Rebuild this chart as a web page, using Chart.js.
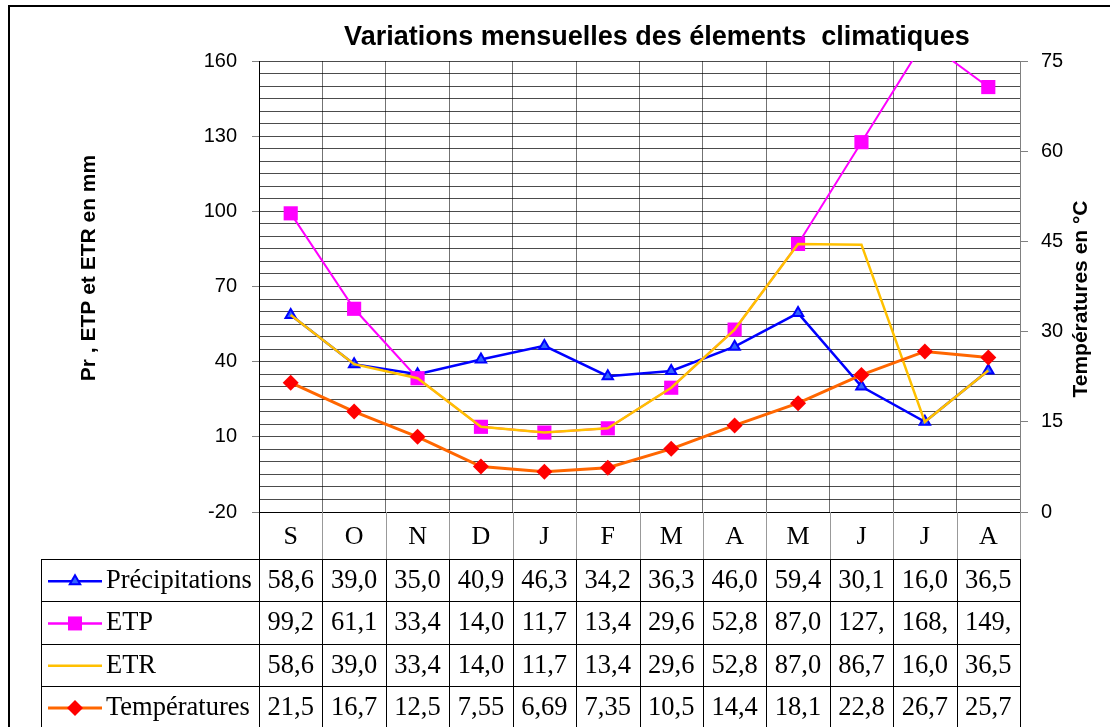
<!DOCTYPE html>
<html>
<head>
<meta charset="utf-8">
<title>Variations mensuelles des élements climatiques</title>
<script src="https://cdn.jsdelivr.net/npm/chart.js@4.4.0/dist/chart.umd.min.js"></script>
<style>
  html, body { margin: 0; padding: 0; background: #fff; }
  #wrap { width: 1110px; height: 727px; position: relative; }
</style>
</head>
<body>
<div id="wrap"><canvas id="climat" width="1110" height="727"></canvas></div>
<script>
// mois de septembre à août
const months = ['S', 'O', 'N', 'D', 'J', 'F', 'M', 'A', 'M', 'J', 'J', 'A'];
const precipitations = [58.6, 39.0, 35.0, 40.9, 46.3, 34.2, 36.3, 46.0, 59.4, 30.1, 16.0, 36.5];
const etp = [99.2, 61.1, 33.4, 14.0, 11.7, 13.4, 29.6, 52.8, 87.0, 127.6, 168.2, 149.6];
const etr = [58.6, 39.0, 33.4, 14.0, 11.7, 13.4, 29.6, 52.8, 87.0, 86.7, 16.0, 36.5];
const temperatures = [21.5, 16.7, 12.5, 7.55, 6.69, 7.35, 10.5, 14.4, 18.1, 22.8, 26.7, 25.7];
const mmTicks = [-20, 10, 40, 70, 100, 130, 160];
const tempTicks = [0, 15, 30, 45, 60, 75];

const SANS = 'Liberation Sans, Arial, sans-serif';
const SERIF = 'Liberation Serif, Times New Roman, serif';

// valeurs comme dans le tableau Excel (colonnes étroites, 4 caractères)
function fmt(v) {
  return (v < 10 ? v.toFixed(2) : v.toFixed(1)).slice(0, 4).replace('.', ',');
}

const series = [
  { label: 'Précipitations', data: precipitations, line: '#0000FF', mark: 'triangle' },
  { label: 'ETP', data: etp, line: '#FF00FF', mark: 'rect' },
  { label: 'ETR', data: etr, line: '#FFC000', mark: null },
  { label: 'Températures', data: temperatures, line: '#FF6600', mark: 'rectRot' }
];

function drawMark(ctx, style, x, y) {
  ctx.save();
  if (style === 'triangle') {
    ctx.beginPath();
    ctx.moveTo(x, y - 6); ctx.lineTo(x + 5.2, y + 3); ctx.lineTo(x - 5.2, y + 3); ctx.closePath();
    ctx.fillStyle = '#3366FF'; ctx.fill();
    ctx.strokeStyle = '#0000FF'; ctx.lineWidth = 2; ctx.stroke();
  } else if (style === 'rect') {
    ctx.fillStyle = '#FF00FF';
    ctx.fillRect(x - 7, y - 7, 14, 14);
  } else if (style === 'rectRot') {
    ctx.beginPath();
    ctx.moveTo(x, y - 8); ctx.lineTo(x + 8, y); ctx.lineTo(x, y + 8); ctx.lineTo(x - 8, y); ctx.closePath();
    ctx.fillStyle = '#FF0000'; ctx.fill();
  }
  ctx.restore();
}

// cadre, titres et tableau de données sous le graphique
const tablePlugin = {
  id: 'dataTable',
  afterDraw(chart) {
    const ctx = chart.ctx;
    const area = chart.chartArea;
    const x = chart.scales.x;
    const colW = (area.right - area.left) / months.length;
    const legendLeft = 41;
    const headBottom = 559;
    const rowH = 42.3;

    ctx.save();
    // cadre extérieur
    ctx.strokeStyle = '#000';
    ctx.lineWidth = 2;
    ctx.beginPath();
    ctx.moveTo(9, 727); ctx.lineTo(9, 6); ctx.lineTo(1110, 6);
    ctx.stroke();

    // titre
    ctx.fillStyle = '#000';
    ctx.font = 'bold 27px ' + SANS;
    ctx.textAlign = 'center';
    ctx.textBaseline = 'middle';
    ctx.fillText('Variations mensuelles des élements  climatiques', 657, 38);

    // titres des axes
    ctx.font = 'bold 21px ' + SANS;
    ctx.save();
    ctx.translate(89, 268); ctx.rotate(-Math.PI / 2);
    ctx.fillText('Pr , ETP et ETR en mm', 0, 0);
    ctx.restore();
    ctx.save();
    ctx.translate(1081, 299); ctx.rotate(-Math.PI / 2);
    ctx.fillText('Températures en °C', 0, 0);
    ctx.restore();

    // ligne des mois
    ctx.lineWidth = 1;
    ctx.strokeStyle = '#999';
    for (let i = 1; i <= months.length; i++) {
      const gx = Math.round(area.left + i * colW) + 0.5;
      ctx.beginPath(); ctx.moveTo(gx, area.bottom); ctx.lineTo(gx, headBottom); ctx.stroke();
    }
    ctx.font = '26px ' + SERIF;
    months.forEach((m, i) => ctx.fillText(m, x.getPixelForValue(i), 537));

    // grille du tableau
    ctx.strokeStyle = '#000';
    ctx.beginPath();
    ctx.moveTo(area.left + 0.5, area.bottom); ctx.lineTo(area.left + 0.5, 727);
    ctx.moveTo(legendLeft + 0.5, headBottom); ctx.lineTo(legendLeft + 0.5, 727);
    for (let i = 1; i <= months.length; i++) {
      const gx = Math.round(area.left + i * colW) + 0.5;
      ctx.moveTo(gx, headBottom); ctx.lineTo(gx, 727);
    }
    for (let r = 0; r < series.length; r++) {
      const gy = Math.round(headBottom + r * rowH) + 0.5;
      ctx.moveTo(legendLeft, gy); ctx.lineTo(area.right + 1, gy);
    }
    ctx.stroke();

    ctx.font = '26.5px ' + SERIF;
    series.forEach((s, r) => {
      const cy = headBottom + r * rowH + rowH / 2 + 1;
      ctx.strokeStyle = s.line;
      ctx.lineWidth = s.mark === 'rectRot' ? 3 : 2.5;
      ctx.beginPath(); ctx.moveTo(48, cy); ctx.lineTo(102, cy); ctx.stroke();
      if (s.mark) drawMark(ctx, s.mark, 75, cy);
      ctx.fillStyle = '#000';
      ctx.textAlign = 'left';
      ctx.fillText(s.label, 106, cy);
      ctx.textAlign = 'center';
      s.data.forEach((v, i) => ctx.fillText(fmt(v), x.getPixelForValue(i), cy));
    });
    ctx.restore();
  }
};

new Chart(document.getElementById('climat'), {
  type: 'line',
  data: {
    labels: months,
    datasets: [
      { label: 'Précipitations', data: precipitations, yAxisID: 'y', order: 4,
        borderColor: '#0000FF', borderWidth: 2.5, pointStyle: 'triangle', pointRadius: 6,
        pointBackgroundColor: '#3366FF', pointBorderColor: '#0000FF', pointBorderWidth: 2 },
      { label: 'ETP', data: etp, yAxisID: 'y', order: 3,
        borderColor: '#FF00FF', borderWidth: 2, pointStyle: 'rect', pointRadius: 10,
        pointBackgroundColor: '#FF00FF', pointBorderWidth: 0 },
      { label: 'ETR', data: etr, yAxisID: 'y', order: 2,
        borderColor: '#FFC000', borderWidth: 2.5, pointRadius: 0 },
      { label: 'Températures', data: temperatures, yAxisID: 'y1', order: 1,
        borderColor: '#FF6600', borderWidth: 3, pointStyle: 'rectRot', pointRadius: 8,
        pointBackgroundColor: '#FF0000', pointBorderColor: '#FF0000', pointBorderWidth: 0 }
    ]
  },
  options: {
    responsive: false,
    animation: false,
    layout: { padding: { top: 61, bottom: 215, left: 0, right: 0 } },
    plugins: { legend: { display: false }, tooltip: { enabled: false }, title: { display: false } },
    elements: { line: { tension: 0 } },
    scales: {
      x: {
        offset: true,
        grid: { offset: true, color: 'rgba(0,0,0,0.55)', drawTicks: false },
        border: { color: '#000' },
        ticks: { display: false },
        afterFit(s) { s.height = 0; }
      },
      y: {
        position: 'left',
        min: -20, max: 160,
        grid: {
          color: 'rgba(0,0,0,0.7)',
          tickLength: 7,
          tickColor: c => mmTicks.includes(c.tick.value) ? '#808080' : 'rgba(0,0,0,0)'
        },
        border: { color: '#000' },
        ticks: {
          stepSize: 5, autoSkip: false, padding: 15, color: '#000',
          font: { family: SANS, size: 20 },
          callback: v => mmTicks.includes(v) ? v : ''
        },
        afterFit(s) { s.width = 259; }
      },
      y1: {
        position: 'right',
        min: 0, max: 75,
        grid: { drawOnChartArea: false, tickLength: 8, tickColor: '#808080' },
        border: { color: '#808080' },
        ticks: {
          stepSize: 15, padding: 13, color: '#000',
          font: { family: SANS, size: 20 },
          callback: v => tempTicks.includes(v) ? v : ''
        },
        afterFit(s) { s.width = 90; }
      }
    }
  },
  plugins: [tablePlugin]
});
</script>
</body>
</html>
